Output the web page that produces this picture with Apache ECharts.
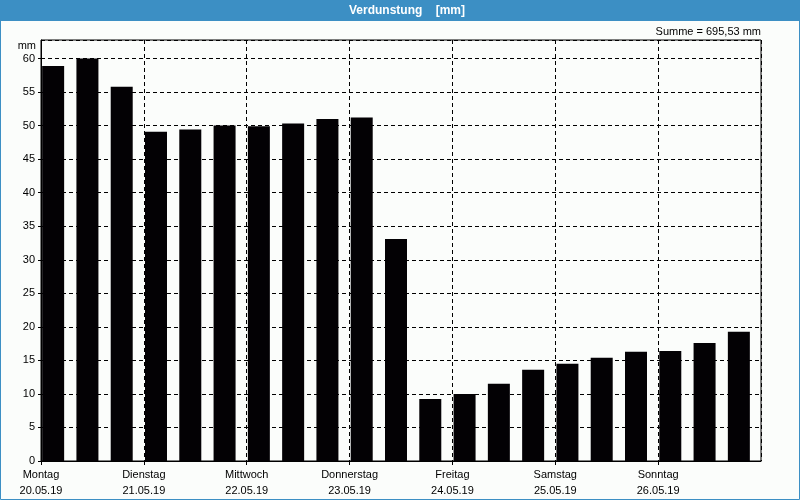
<!DOCTYPE html>
<html>
<head>
<meta charset="utf-8">
<script src="https://cdn.jsdelivr.net/npm/echarts@6/dist/echarts.min.js"></script>
<style>
  html, body { margin: 0; padding: 0; background: #fbfdfb; }
  #main { width: 800px; height: 500px; }
</style>
</head>
<body>
<div id="main"></div>
<script>
// Tage + Datum (Beschriftung an den Tagesgrenzen)
const dayNames = ['Montag', 'Dienstag', 'Mittwoch', 'Donnerstag', 'Freitag', 'Samstag', 'Sonntag']
const dates = ['20.05.19', '21.05.19', '22.05.19', '23.05.19', '24.05.19', '25.05.19', '26.05.19']
const slots = ['00', '08', '16']
// Verdunstung in mm, 3 Werte pro Tag
const values = [
    58.9, 60.0, 55.8,
    49.1, 49.4, 50.0,
    49.9, 50.3, 51.0,
    51.2, 33.1, 9.25,
    10.0, 11.5, 13.6,
    14.5, 15.4, 16.3,
    16.4, 17.6, 19.25
]
const yTicks = [0, 5, 10, 15, 20, 25, 30, 35, 40, 45, 50, 55, 60]
const summe = '695,53'

const categories = []
dates.forEach(d => slots.forEach(s => categories.push(d + ' ' + s + 'h')))

const font = 'Liberation Sans'
const dash = [4, 3]

const chart = echarts.init(document.getElementById('main'))
chart.setOption({
    animation: false,
    backgroundColor: '#fbfdfb',
    textStyle: { fontFamily: font },
    grid: {
        left: 41, right: 39, top: 40, bottom: 39,
        show: true, borderColor: '#000', borderWidth: 1, backgroundColor: 'transparent'
    },
    graphic: [
        { type: 'rect', shape: { x: 0, y: 0, width: 800, height: 21 }, style: { fill: '#3c8fc4' }, z: 0 },
        { type: 'rect', shape: { x: 0.5, y: 0.5, width: 799, height: 499 }, style: { fill: null, stroke: '#3c8fc4', lineWidth: 1 }, z: 0 },
        { type: 'text', x: 407, y: 11, style: { text: 'Verdunstung    [mm]', fill: '#fff', font: 'bold 12px ' + font, align: 'center', verticalAlign: 'middle' }, z: 5 },
        { type: 'text', x: 761, y: 32, style: { text: 'Summe = ' + summe + ' mm', fill: '#000', font: '11px ' + font, align: 'right', verticalAlign: 'middle' }, z: 5 },
        { type: 'text', x: 36, y: 46, style: { text: 'mm', fill: '#000', font: '11px ' + font, align: 'right', verticalAlign: 'middle' }, z: 5 }
    ],
    xAxis: [
        {
            type: 'category',
            data: categories,
            boundaryGap: true,
            axisLine: { show: false },
            axisTick: { show: false },
            axisLabel: { show: false },
            splitLine: { show: false }
        },
        {
            type: 'value',
            position: 'bottom',
            min: 0, max: 7, interval: 1,
            axisLine: { show: true, lineStyle: { color: '#000', width: 1 } },
            axisTick: { show: true, length: 4, lineStyle: { color: '#000' } },
            axisLabel: {
                color: '#000', fontSize: 11, lineHeight: 16, margin: 6,
                showMaxLabel: false,
                formatter: v => v < dayNames.length ? dayNames[v] + '\n' + dates[v] : ''
            },
            splitLine: { show: true, lineStyle: { color: '#000', type: dash, width: 1 } }
        }
    ],
    yAxis: {
        type: 'value',
        min: 0, max: 62.76, interval: 5,
        axisLine: { show: true, lineStyle: { color: '#000', width: 1 } },
        axisTick: { show: true, length: 3, lineStyle: { color: '#000' } },
        axisLabel: {
            color: '#000', fontSize: 11, margin: 6,
            showMaxLabel: false,
            formatter: v => yTicks.indexOf(v) >= 0 ? String(v) : ''
        },
        splitLine: { show: true, lineStyle: { color: '#000', type: dash, width: 1 } }
    },
    series: [
        {
            name: 'Verdunstung',
            type: 'bar',
            xAxisIndex: 0,
            data: values,
            barWidth: 22,
            barGap: '0%',
            itemStyle: { color: '#030104' },
            z: 3
        },
        {
            name: 'pad',
            type: 'bar',
            xAxisIndex: 0,
            data: values.map(() => 0),
            barWidth: 10,
            barGap: '0%',
            itemStyle: { color: 'transparent' },
            silent: true
        }
    ]
})
</script>
</body>
</html>
